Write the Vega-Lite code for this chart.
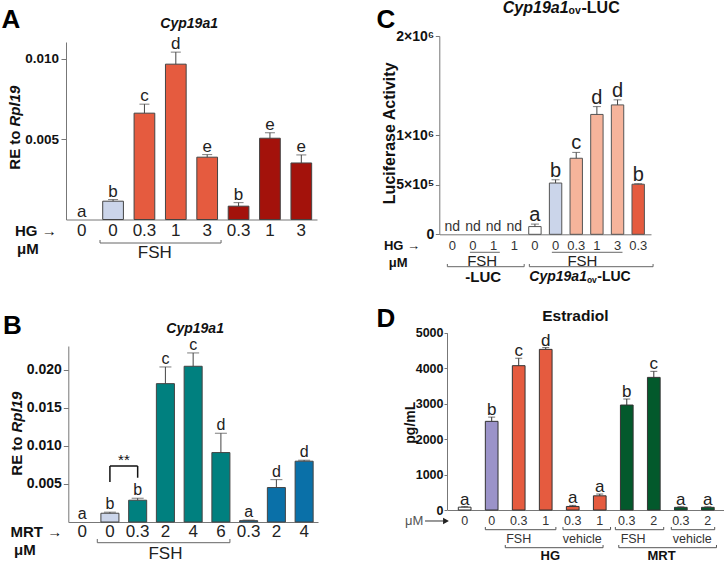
{
"$schema":"https://vega.github.io/schema/vega-lite/v6.json",
"width":724,"height":562,"autosize":"none","padding":0,"background":"white",
"config":{"font":"Liberation Sans","view":{"stroke":null},"axis":{"grid":false,"labelColor":"#111","labelFont":"Liberation Sans","labelOverlap":false,"domainColor":"#777","tickColor":"#777"}},
"datasets":{
"A":[
{"cat":"1","dose":"0","mean":0,"hi":0,"sig":"a","grp":"ctrl"},
{"cat":"2","dose":"0","mean":0.00114,"hi":0.00124,"sig":"b","grp":"FSH"},
{"cat":"3","dose":"0.3","mean":0.00662,"hi":0.00718,"sig":"c","grp":"FSH+HG"},
{"cat":"4","dose":"1","mean":0.00967,"hi":0.01042,"sig":"d","grp":"FSH+HG"},
{"cat":"5","dose":"3","mean":0.00388,"hi":0.00404,"sig":"e","grp":"FSH+HG"},
{"cat":"6","dose":"0.3","mean":0.00083,"hi":0.00105,"sig":"b","grp":"HG"},
{"cat":"7","dose":"1","mean":0.00506,"hi":0.0054,"sig":"e","grp":"HG"},
{"cat":"8","dose":"3","mean":0.00352,"hi":0.00402,"sig":"e","grp":"HG"}],
"B":[
{"cat":"1","dose":"0","mean":0,"hi":0,"sig":"a","grp":"ctrl"},
{"cat":"2","dose":"0","mean":0.00115,"hi":0.00129,"sig":"b","grp":"FSH"},
{"cat":"3","dose":"0.3","mean":0.00286,"hi":0.00312,"sig":"b","grp":"FSH+MRT"},
{"cat":"4","dose":"2","mean":0.01816,"hi":0.02035,"sig":"c","grp":"FSH+MRT"},
{"cat":"5","dose":"4","mean":0.02044,"hi":0.02219,"sig":"c","grp":"FSH+MRT"},
{"cat":"6","dose":"6","mean":0.00911,"hi":0.01165,"sig":"d","grp":"FSH+MRT"},
{"cat":"7","dose":"0.3","mean":0.00018,"hi":0.00025,"sig":"a","grp":"MRT"},
{"cat":"8","dose":"2","mean":0.00452,"hi":0.00556,"sig":"d","grp":"MRT"},
{"cat":"9","dose":"4","mean":0.00798,"hi":0.00811,"sig":"d","grp":"MRT"}],
"C":[
{"cat":"1","dose":"0","mean":0,"hi":0,"sig":"nd","grp":"ctrl"},
{"cat":"2","dose":"0","mean":0,"hi":0,"sig":"nd","grp":"ctrl"},
{"cat":"3","dose":"1","mean":0,"hi":0,"sig":"nd","grp":"ctrl"},
{"cat":"4","dose":"1","mean":0,"hi":0,"sig":"nd","grp":"ctrl"},
{"cat":"5","dose":"0","mean":78000,"hi":103000,"sig":"a","grp":"ctrl"},
{"cat":"6","dose":"0","mean":517000,"hi":550000,"sig":"b","grp":"FSH"},
{"cat":"7","dose":"0.3","mean":767000,"hi":826000,"sig":"c","grp":"FSH+HG (LUC)"},
{"cat":"8","dose":"1","mean":1209000,"hi":1288000,"sig":"d","grp":"FSH+HG (LUC)"},
{"cat":"9","dose":"3","mean":1305000,"hi":1356000,"sig":"d","grp":"FSH+HG (LUC)"},
{"cat":"10","dose":"0.3","mean":505000,"hi":510000,"sig":"b","grp":"HG (LUC)"}],
"D":[
{"cat":"1","dose":"0","mean":80,"hi":95,"sig":"a","grp":"ctrl"},
{"cat":"2","dose":"0","mean":2500,"hi":2620,"sig":"b","grp":"FSH (E2)"},
{"cat":"3","dose":"0.3","mean":4070,"hi":4280,"sig":"c","grp":"FSH+HG"},
{"cat":"4","dose":"1","mean":4530,"hi":4580,"sig":"d","grp":"FSH+HG"},
{"cat":"5","dose":"0.3","mean":100,"hi":130,"sig":"a","grp":"HG (E2)"},
{"cat":"6","dose":"1","mean":400,"hi":450,"sig":"a","grp":"HG (E2)"},
{"cat":"7","dose":"0.3","mean":2960,"hi":3130,"sig":"b","grp":"MRT (E2)"},
{"cat":"8","dose":"2","mean":3740,"hi":3910,"sig":"c","grp":"MRT (E2)"},
{"cat":"9","dose":"0.3","mean":75,"hi":90,"sig":"a","grp":"MRT (E2)"},
{"cat":"10","dose":"2","mean":75,"hi":90,"sig":"a","grp":"MRT (E2)"}]
},
"resolve":{"scale":{"x":"independent","y":"independent"}},
"layer":[
{"data":{"name":"A"},"layer":[
 {"transform":[{"filter":"datum.mean > 0"}],"mark":{"type":"bar","stroke":"#444","strokeWidth":1},
  "encoding":{
   "x":{"field":"cat","type":"nominal","scale":{"domain":["1","2","3","4","5","6","7","8"],"range":[66,317],"paddingInner":0.34,"paddingOuter":0.17},"axis":{"orient":"bottom","offset":-342.5,"labels":false,"ticks":false,"title":null}},
   "y":{"field":"mean","type":"quantitative","scale":{"domain":[0,0.01105],"range":[219.5,42],"nice":false},"axis":{"orient":"left","offset":-66,"values":[0.005,0.01],"format":".3f","title":null,"tickSize":5,"labelPadding":2.5,"labelFontSize":13.5,"labelFontWeight":"bold"}},
   "color":{"field":"grp","type":"nominal","scale":{"domain":["ctrl","FSH","FSH+HG","HG","FSH+MRT","MRT","FSH+HG (LUC)","HG (LUC)","FSH (E2)","HG (E2)","MRT (E2)"],"range":["#ffffff","#cbd5ea","#e55b3f","#a3120b","#00807f","#0a70a8","#f6b49b","#e55b3f","#9b93c9","#e55b3f","#03592c"]},"legend":null}}},
 {"transform":[{"filter":"datum.hi > datum.mean"}],"mark":{"type":"rule","color":"#444"},"encoding":{"x":{"field":"cat","type":"nominal"},"y":{"field":"mean","type":"quantitative"},"y2":{"field":"hi"}}},
 {"transform":[{"filter":"datum.hi > datum.mean"}],"mark":{"type":"tick","color":"#444","size":10,"thickness":1,"orient":"horizontal"},"encoding":{"x":{"field":"cat","type":"nominal"},"y":{"field":"hi","type":"quantitative"}}},
 {"mark":{"type":"text","fontSize":17,"baseline":"alphabetic","dy":-3,"color":"#222"},"encoding":{"x":{"field":"cat","type":"nominal"},"y":{"field":"hi","type":"quantitative"},"text":{"field":"sig"}}},
 {"mark":{"type":"text","fontSize":17,"baseline":"middle","color":"#222"},"encoding":{"x":{"field":"cat","type":"nominal"},"y":{"datum":-0.000747},"text":{"field":"dose"}}},
 {"data":{"values":[{}]},"layer":[
  {"mark":{"type":"text","text":"HG →","fontSize":15,"fontWeight":"bold","align":"right","baseline":"middle","dx":-25,"color":"#111"},"encoding":{"x":{"datum":"1","type":"nominal"},"y":{"datum":-0.000747}}},
  {"mark":{"type":"text","text":"μM","fontSize":15,"fontWeight":"bold","align":"left","baseline":"middle","dx":-64.7,"color":"#111"},"encoding":{"x":{"datum":"1","type":"nominal"},"y":{"datum":-0.001806}}},
  {"mark":{"type":"rule","color":"#666"},"encoding":{"x":{"datum":"2","type":"nominal","bandPosition":-0.13},"x2":{"datum":"5","bandPosition":1.17},"y":{"datum":-0.001463}}},
  {"mark":{"type":"rule","color":"#666"},"encoding":{"x":{"datum":"2","type":"nominal","bandPosition":-0.13},"y":{"datum":-0.001463},"y2":{"datum":-0.001276}}},
  {"mark":{"type":"rule","color":"#666"},"encoding":{"x":{"datum":"5","type":"nominal","bandPosition":1.17},"y":{"datum":-0.001463},"y2":{"datum":-0.001276}}},
  {"mark":{"type":"text","text":"FSH","fontSize":17,"baseline":"middle","color":"#222"},"encoding":{"x":{"datum":"3","type":"nominal","bandPosition":1},"y":{"datum":-0.002086}}},
  {"mark":{"type":"text","text":"Cyp19a1","fontSize":14,"fontWeight":"bold","fontStyle":"italic","baseline":"middle","dx":3,"color":"#111"},"encoding":{"x":{"datum":"4","type":"nominal","bandPosition":1},"y":{"datum":0.01217}}},
  {"mark":{"type":"text","text":"A","fontSize":26,"fontWeight":"bold","baseline":"middle","dx":-70.7,"color":"#000"},"encoding":{"x":{"datum":"1","type":"nominal"},"y":{"datum":0.01242}}},
  {"mark":{"type":"text","text":"RE to","fontSize":15,"fontWeight":"bold","angle":270,"align":"right","baseline":"middle","dx":-2,"dy":-66.7,"color":"#111"},"encoding":{"x":{"datum":"1","type":"nominal"},"y":{"datum":0.005666}}},
  {"mark":{"type":"text","text":"Rpl19","fontSize":15,"fontWeight":"bold","fontStyle":"italic","angle":270,"align":"left","baseline":"middle","dx":2,"dy":-66.7,"color":"#111"},"encoding":{"x":{"datum":"1","type":"nominal"},"y":{"datum":0.005666}}}
 ]}
]},
{"data":{"name":"B"},"layer":[
 {"transform":[{"filter":"datum.mean > 0"}],"mark":{"type":"bar","stroke":"#444","strokeWidth":1},
  "encoding":{
   "x":{"field":"cat","type":"nominal","scale":{"domain":["1","2","3","4","5","6","7","8","9"],"range":[68.3,318],"paddingInner":0.35,"paddingOuter":0.175},"axis":{"orient":"bottom","offset":-40,"labels":false,"ticks":false,"title":null}},
   "y":{"field":"mean","type":"quantitative","scale":{"domain":[0,0.0231],"range":[522,346],"nice":false},"axis":{"orient":"left","offset":-68.3,"values":[0.005,0.01,0.015,0.02],"format":".3f","title":null,"tickSize":5,"labelPadding":2,"labelFontSize":14,"labelFontWeight":"bold"}},
   "color":{"field":"grp","type":"nominal","scale":{"domain":["ctrl","FSH","FSH+HG","HG","FSH+MRT","MRT","FSH+HG (LUC)","HG (LUC)","FSH (E2)","HG (E2)","MRT (E2)"],"range":["#ffffff","#cbd5ea","#e55b3f","#a3120b","#00807f","#0a70a8","#f6b49b","#e55b3f","#9b93c9","#e55b3f","#03592c"]},"legend":null}}},
 {"transform":[{"filter":"datum.hi > datum.mean"}],"mark":{"type":"rule","color":"#444"},"encoding":{"x":{"field":"cat","type":"nominal"},"y":{"field":"mean","type":"quantitative"},"y2":{"field":"hi"}}},
 {"transform":[{"filter":"datum.hi > datum.mean"}],"mark":{"type":"tick","color":"#444","size":12,"thickness":1,"orient":"horizontal"},"encoding":{"x":{"field":"cat","type":"nominal"},"y":{"field":"hi","type":"quantitative"}}},
 {"mark":{"type":"text","fontSize":16,"baseline":"alphabetic","dy":-3,"color":"#222"},"encoding":{"x":{"field":"cat","type":"nominal"},"y":{"field":"hi","type":"quantitative"},"text":{"field":"sig"}}},
 {"mark":{"type":"text","fontSize":17,"baseline":"middle","color":"#222"},"encoding":{"x":{"field":"cat","type":"nominal"},"y":{"datum":-0.001273},"text":{"field":"dose"}}},
 {"data":{"values":[{}]},"layer":[
  {"mark":{"type":"text","text":"MRT →","fontSize":15,"fontWeight":"bold","align":"right","baseline":"middle","dx":-20,"color":"#111"},"encoding":{"x":{"datum":"1","type":"nominal"},"y":{"datum":-0.001273}}},
  {"mark":{"type":"text","text":"μM","fontSize":15,"fontWeight":"bold","align":"left","baseline":"middle","dx":-68.2,"color":"#111"},"encoding":{"x":{"datum":"1","type":"nominal"},"y":{"datum":-0.003675}}},
  {"mark":{"type":"rule","color":"#666"},"encoding":{"x":{"datum":"2","type":"nominal","bandPosition":-0.2},"x2":{"datum":"6","bandPosition":1},"y":{"datum":-0.002717}}},
  {"mark":{"type":"rule","color":"#666"},"encoding":{"x":{"datum":"2","type":"nominal","bandPosition":-0.2},"y":{"datum":-0.002717},"y2":{"datum":-0.002231}}},
  {"mark":{"type":"rule","color":"#666"},"encoding":{"x":{"datum":"6","type":"nominal","bandPosition":1},"y":{"datum":-0.002717},"y2":{"datum":-0.002231}}},
  {"mark":{"type":"text","text":"FSH","fontSize":17,"baseline":"middle","color":"#222"},"encoding":{"x":{"datum":"4","type":"nominal"},"y":{"datum":-0.0042}}},
  {"mark":{"type":"rule","color":"#111","strokeWidth":1.5},"encoding":{"x":{"datum":"2","type":"nominal"},"x2":{"datum":"3"},"y":{"datum":0.00735}}},
  {"mark":{"type":"rule","color":"#111","strokeWidth":1.5},"encoding":{"x":{"datum":"2","type":"nominal"},"y":{"datum":0.00525},"y2":{"datum":0.00735}}},
  {"mark":{"type":"rule","color":"#111","strokeWidth":1.5},"encoding":{"x":{"datum":"3","type":"nominal"},"y":{"datum":0.00581},"y2":{"datum":0.00735}}},
  {"mark":{"type":"text","text":"**","fontSize":15,"baseline":"alphabetic","dx":14,"dy":-1,"color":"#111"},"encoding":{"x":{"datum":"2","type":"nominal"},"y":{"datum":0.00735}}},
  {"mark":{"type":"text","text":"Cyp19a1","fontSize":14,"fontWeight":"bold","fontStyle":"italic","baseline":"middle","dx":2,"color":"#111"},"encoding":{"x":{"datum":"5","type":"nominal"},"y":{"datum":0.02533}}},
  {"mark":{"type":"text","text":"B","fontSize":26,"fontWeight":"bold","baseline":"middle","dx":-69.7,"color":"#000"},"encoding":{"x":{"datum":"1","type":"nominal"},"y":{"datum":0.02573}}},
  {"mark":{"type":"text","text":"RE to","fontSize":15,"fontWeight":"bold","angle":270,"align":"right","baseline":"middle","dx":-2,"dy":-65.5,"color":"#111"},"encoding":{"x":{"datum":"1","type":"nominal"},"y":{"datum":0.01148}}},
  {"mark":{"type":"text","text":"Rpl19","fontSize":15,"fontWeight":"bold","fontStyle":"italic","angle":270,"align":"left","baseline":"middle","dx":2,"dy":-65.5,"color":"#111"},"encoding":{"x":{"datum":"1","type":"nominal"},"y":{"datum":0.01148}}}
 ]}
]},
{"data":{"name":"C"},"layer":[
 {"transform":[{"filter":"datum.mean > 0"}],"mark":{"type":"bar","stroke":"#555","strokeWidth":1},
  "encoding":{
   "x":{"field":"cat","type":"nominal","scale":{"domain":["1","2","3","4","5","6","7","8","9","10"],"range":[439.5,651],"paddingInner":0.4,"paddingOuter":0.32},"axis":{"orient":"bottom","offset":-327.7,"labels":false,"ticks":false,"title":null}},
   "y":{"field":"mean","type":"quantitative","scale":{"domain":[0,2000000],"range":[234.3,36],"nice":false},"axis":{"orient":"left","offset":-439.3,"values":[0,500000,1000000,2000000],"labelExpr":"datum.value == 0 ? '0' : datum.value == 500000 ? '5×10⁵' : datum.value == 1000000 ? '1×10⁶' : '2×10⁶'","title":null,"tickSize":4,"labelPadding":1.5,"labelFontSize":14,"labelFontWeight":"bold"}},
   "color":{"field":"grp","type":"nominal","scale":{"domain":["ctrl","FSH","FSH+HG","HG","FSH+MRT","MRT","FSH+HG (LUC)","HG (LUC)","FSH (E2)","HG (E2)","MRT (E2)"],"range":["#ffffff","#cbd5ea","#e55b3f","#a3120b","#00807f","#0a70a8","#f6b49b","#e55b3f","#9b93c9","#e55b3f","#03592c"]},"legend":null}}},
 {"transform":[{"filter":"datum.hi > datum.mean"}],"mark":{"type":"rule","color":"#444"},"encoding":{"x":{"field":"cat","type":"nominal"},"y":{"field":"mean","type":"quantitative"},"y2":{"field":"hi"}}},
 {"transform":[{"filter":"datum.hi > datum.mean"}],"mark":{"type":"tick","color":"#444","size":8,"thickness":1,"orient":"horizontal"},"encoding":{"x":{"field":"cat","type":"nominal"},"y":{"field":"hi","type":"quantitative"}}},
 {"transform":[{"filter":"datum.sig != 'nd'"}],"mark":{"type":"text","fontSize":20,"baseline":"alphabetic","dy":-3,"color":"#222"},"encoding":{"x":{"field":"cat","type":"nominal"},"y":{"field":"hi","type":"quantitative"},"text":{"field":"sig"}}},
 {"transform":[{"filter":"datum.sig == 'nd'"}],"mark":{"type":"text","fontSize":14,"baseline":"alphabetic","dy":-3,"color":"#333"},"encoding":{"x":{"field":"cat","type":"nominal"},"y":{"field":"hi","type":"quantitative"},"text":{"field":"sig"}}},
 {"mark":{"type":"text","fontSize":13,"baseline":"middle","color":"#333"},"encoding":{"x":{"field":"cat","type":"nominal"},"y":{"datum":-118000},"text":{"field":"dose"}}},
 {"data":{"values":[{}]},"layer":[
  {"mark":{"type":"text","text":"HG →","fontSize":13,"fontWeight":"bold","align":"right","baseline":"middle","dx":-32.3,"color":"#111"},"encoding":{"x":{"datum":"1","type":"nominal"},"y":{"datum":-118000}}},
  {"mark":{"type":"text","text":"μM","fontSize":13,"fontWeight":"bold","align":"left","baseline":"middle","dx":-63.6,"color":"#111"},"encoding":{"x":{"datum":"1","type":"nominal"},"y":{"datum":-292500}}},
  {"mark":{"type":"rule","color":"#666"},"encoding":{"x":{"datum":"2","type":"nominal","bandPosition":0.25},"x2":{"datum":"3","bandPosition":1},"y":{"datum":-181500}}},
  {"mark":{"type":"rule","color":"#666"},"encoding":{"x":{"datum":"6","type":"nominal","bandPosition":0.2},"x2":{"datum":"9","bandPosition":0.9},"y":{"datum":-181500}}},
  {"mark":{"type":"text","text":"FSH","fontSize":15,"baseline":"middle","dx":3,"color":"#222"},"encoding":{"x":{"datum":"2","type":"nominal","bandPosition":1},"y":{"datum":-274300}}},
  {"mark":{"type":"text","text":"FSH","fontSize":15,"baseline":"middle","color":"#222"},"encoding":{"x":{"datum":"7","type":"nominal","bandPosition":1},"y":{"datum":-274300}}},
  {"mark":{"type":"rule","color":"#666"},"encoding":{"x":{"datum":"1","type":"nominal","bandPosition":0.1},"x2":{"datum":"4","bandPosition":1.3},"y":{"datum":-326800}}},
  {"mark":{"type":"rule","color":"#666"},"encoding":{"x":{"datum":"1","type":"nominal","bandPosition":0.1},"y":{"datum":-326800},"y2":{"datum":-299500}}},
  {"mark":{"type":"rule","color":"#666"},"encoding":{"x":{"datum":"4","type":"nominal","bandPosition":1.3},"y":{"datum":-326800},"y2":{"datum":-299500}}},
  {"mark":{"type":"rule","color":"#666"},"encoding":{"x":{"datum":"5","type":"nominal","bandPosition":0.05},"x2":{"datum":"10","bandPosition":1.7},"y":{"datum":-326800}}},
  {"mark":{"type":"rule","color":"#666"},"encoding":{"x":{"datum":"5","type":"nominal","bandPosition":0.05},"y":{"datum":-326800},"y2":{"datum":-299500}}},
  {"mark":{"type":"rule","color":"#666"},"encoding":{"x":{"datum":"10","type":"nominal","bandPosition":1.7},"y":{"datum":-326800},"y2":{"datum":-299500}}},
  {"mark":{"type":"text","text":"-LUC","fontSize":15,"fontWeight":"bold","baseline":"middle","dx":4,"color":"#111"},"encoding":{"x":{"datum":"2","type":"nominal","bandPosition":1},"y":{"datum":-433700}}},
  {"mark":{"type":"text","text":"Cyp19a1","fontSize":14,"fontWeight":"bold","fontStyle":"italic","align":"left","baseline":"middle","dx":0.6,"color":"#111"},"encoding":{"x":{"datum":"5","type":"nominal","bandPosition":0},"y":{"datum":-433700}}},
  {"mark":{"type":"text","text":"ov","fontSize":8.5,"fontWeight":"bold","align":"left","baseline":"middle","dx":58.2,"dy":3,"color":"#111"},"encoding":{"x":{"datum":"5","type":"nominal","bandPosition":0},"y":{"datum":-433700}}},
  {"mark":{"type":"text","text":"-LUC","fontSize":14,"fontWeight":"bold","align":"left","baseline":"middle","dx":68.5,"color":"#111"},"encoding":{"x":{"datum":"5","type":"nominal","bandPosition":0},"y":{"datum":-433700}}},
  {"mark":{"type":"text","text":"Cyp19a1","fontSize":16,"fontWeight":"bold","fontStyle":"italic","align":"left","baseline":"middle","dx":56.7,"color":"#111"},"encoding":{"x":{"datum":"1","type":"nominal","bandPosition":0},"y":{"datum":2282400}}},
  {"mark":{"type":"text","text":"ov","fontSize":10.5,"fontWeight":"bold","align":"left","baseline":"middle","dx":122.5,"dy":3,"color":"#111"},"encoding":{"x":{"datum":"1","type":"nominal","bandPosition":0},"y":{"datum":2282400}}},
  {"mark":{"type":"text","text":"-LUC","fontSize":16,"fontWeight":"bold","align":"left","baseline":"middle","dx":135.4,"color":"#111"},"encoding":{"x":{"datum":"1","type":"nominal","bandPosition":0},"y":{"datum":2282400}}},
  {"mark":{"type":"text","text":"C","fontSize":26,"fontWeight":"bold","baseline":"middle","dx":-66.3,"color":"#000"},"encoding":{"x":{"datum":"1","type":"nominal"},"y":{"datum":2161400}}},
  {"mark":{"type":"text","text":"Luciferase Activity","fontSize":16,"fontWeight":"bold","angle":270,"align":"center","baseline":"middle","dy":-62.3,"color":"#111"},"encoding":{"x":{"datum":"1","type":"nominal"},"y":{"datum":1018600}}}
 ]}
]},
{"data":{"name":"D"},"layer":[
 {"transform":[{"filter":"datum.mean > 0"}],"mark":{"type":"bar","stroke":"#333","strokeWidth":1},
  "encoding":{
   "x":{"field":"cat","type":"nominal","scale":{"domain":["1","2","3","4","5","6","7","8","9","10"],"range":[447.5,725],"paddingInner":0.53,"paddingOuter":0.4},"axis":{"orient":"bottom","offset":-52,"labels":false,"ticks":false,"title":null}},
   "y":{"field":"mean","type":"quantitative","scale":{"domain":[0,5000],"range":[510,332.7],"nice":false},"axis":{"orient":"left","offset":-447,"values":[0,1000,2000,3000,4000,5000],"format":"d","title":null,"tickSize":3,"labelPadding":1,"labelFontSize":12.5,"labelFontWeight":"bold"}},
   "color":{"field":"grp","type":"nominal","scale":{"domain":["ctrl","FSH","FSH+HG","HG","FSH+MRT","MRT","FSH+HG (LUC)","HG (LUC)","FSH (E2)","HG (E2)","MRT (E2)"],"range":["#ffffff","#cbd5ea","#e55b3f","#a3120b","#00807f","#0a70a8","#f6b49b","#e55b3f","#9b93c9","#e55b3f","#03592c"]},"legend":null}}},
 {"transform":[{"filter":"datum.hi > datum.mean"}],"mark":{"type":"rule","color":"#333"},"encoding":{"x":{"field":"cat","type":"nominal"},"y":{"field":"mean","type":"quantitative"},"y2":{"field":"hi"}}},
 {"transform":[{"filter":"datum.hi > datum.mean"}],"mark":{"type":"tick","color":"#333","size":7,"thickness":1,"orient":"horizontal"},"encoding":{"x":{"field":"cat","type":"nominal"},"y":{"field":"hi","type":"quantitative"}}},
 {"mark":{"type":"text","fontSize":17,"baseline":"alphabetic","dy":-2,"color":"#222"},"encoding":{"x":{"field":"cat","type":"nominal"},"y":{"field":"hi","type":"quantitative"},"text":{"field":"sig"}}},
 {"mark":{"type":"text","fontSize":12.5,"baseline":"middle","color":"#333"},"encoding":{"x":{"field":"cat","type":"nominal"},"y":{"datum":-310},"text":{"field":"dose"}}},
 {"data":{"values":[{}]},"layer":[
  {"mark":{"type":"text","text":"μM","fontSize":13,"align":"left","baseline":"middle","dx":-59.7,"color":"#555"},"encoding":{"x":{"datum":"1","type":"nominal"},"y":{"datum":-310}}},
  {"mark":{"type":"rule","color":"#333"},"encoding":{"x":{"datum":"1","type":"nominal","bandPosition":-2.62},"x2":{"datum":"1","bandPosition":-1.2},"y":{"datum":-310}}},
  {"mark":{"type":"point","shape":"triangle-right","filled":true,"size":45,"color":"#222","opacity":1},"encoding":{"x":{"datum":"1","type":"nominal","bandPosition":-0.97},"y":{"datum":-310}}},
  {"mark":{"type":"rule","color":"#555"},"encoding":{"x":{"datum":"2","type":"nominal","bandPosition":0},"x2":{"datum":"4","bandPosition":1.3},"y":{"datum":-555.5}}},
  {"mark":{"type":"rule","color":"#555"},"encoding":{"x":{"datum":"2","type":"nominal","bandPosition":0},"y":{"datum":-555.5},"y2":{"datum":-479}}},
  {"mark":{"type":"rule","color":"#555"},"encoding":{"x":{"datum":"4","type":"nominal","bandPosition":1.3},"y":{"datum":-555.5},"y2":{"datum":-479}}},
  {"mark":{"type":"rule","color":"#555"},"encoding":{"x":{"datum":"5","type":"nominal","bandPosition":-0.27},"x2":{"datum":"6","bandPosition":1.35},"y":{"datum":-555.5}}},
  {"mark":{"type":"rule","color":"#555"},"encoding":{"x":{"datum":"5","type":"nominal","bandPosition":-0.27},"y":{"datum":-555.5},"y2":{"datum":-479}}},
  {"mark":{"type":"rule","color":"#555"},"encoding":{"x":{"datum":"6","type":"nominal","bandPosition":1.35},"y":{"datum":-555.5},"y2":{"datum":-479}}},
  {"mark":{"type":"rule","color":"#555"},"encoding":{"x":{"datum":"7","type":"nominal","bandPosition":-0.4},"x2":{"datum":"8","bandPosition":1.28},"y":{"datum":-555.5}}},
  {"mark":{"type":"rule","color":"#555"},"encoding":{"x":{"datum":"7","type":"nominal","bandPosition":-0.4},"y":{"datum":-555.5},"y2":{"datum":-479}}},
  {"mark":{"type":"rule","color":"#555"},"encoding":{"x":{"datum":"8","type":"nominal","bandPosition":1.28},"y":{"datum":-555.5},"y2":{"datum":-479}}},
  {"mark":{"type":"rule","color":"#555"},"encoding":{"x":{"datum":"9","type":"nominal","bandPosition":-0.25},"x2":{"datum":"10","bandPosition":1.04},"y":{"datum":-555.5}}},
  {"mark":{"type":"rule","color":"#555"},"encoding":{"x":{"datum":"9","type":"nominal","bandPosition":-0.25},"y":{"datum":-555.5},"y2":{"datum":-479}}},
  {"mark":{"type":"rule","color":"#555"},"encoding":{"x":{"datum":"10","type":"nominal","bandPosition":1.04},"y":{"datum":-555.5},"y2":{"datum":-479}}},
  {"mark":{"type":"rule","color":"#555"},"encoding":{"x":{"datum":"2","type":"nominal","bandPosition":1.57},"x2":{"datum":"6","bandPosition":0.76},"y":{"datum":-1063}}},
  {"mark":{"type":"rule","color":"#555"},"encoding":{"x":{"datum":"2","type":"nominal","bandPosition":1.57},"y":{"datum":-1063},"y2":{"datum":-987}}},
  {"mark":{"type":"rule","color":"#555"},"encoding":{"x":{"datum":"6","type":"nominal","bandPosition":0.76},"y":{"datum":-1063},"y2":{"datum":-987}}},
  {"mark":{"type":"rule","color":"#555"},"encoding":{"x":{"datum":"7","type":"nominal","bandPosition":-0.13},"x2":{"datum":"10","bandPosition":1.18},"y":{"datum":-1063}}},
  {"mark":{"type":"rule","color":"#555"},"encoding":{"x":{"datum":"7","type":"nominal","bandPosition":-0.13},"y":{"datum":-1063},"y2":{"datum":-987}}},
  {"mark":{"type":"rule","color":"#555"},"encoding":{"x":{"datum":"10","type":"nominal","bandPosition":1.18},"y":{"datum":-1063},"y2":{"datum":-987}}},
  {"mark":{"type":"text","text":"FSH","fontSize":12.5,"baseline":"middle","color":"#333"},"encoding":{"x":{"datum":"3","type":"nominal"},"y":{"datum":-809}}},
  {"mark":{"type":"text","text":"vehicle","fontSize":12.5,"baseline":"middle","color":"#333"},"encoding":{"x":{"datum":"5","type":"nominal","bandPosition":1.25},"y":{"datum":-809}}},
  {"mark":{"type":"text","text":"FSH","fontSize":12.5,"baseline":"middle","color":"#333"},"encoding":{"x":{"datum":"7","type":"nominal","bandPosition":1},"y":{"datum":-809}}},
  {"mark":{"type":"text","text":"vehicle","fontSize":12.5,"baseline":"middle","color":"#333"},"encoding":{"x":{"datum":"9","type":"nominal","bandPosition":1.4},"y":{"datum":-809}}},
  {"mark":{"type":"text","text":"HG","fontSize":13,"fontWeight":"bold","baseline":"middle","dx":4.6,"color":"#111"},"encoding":{"x":{"datum":"4","type":"nominal"},"y":{"datum":-1297}}},
  {"mark":{"type":"text","text":"MRT","fontSize":13,"fontWeight":"bold","baseline":"middle","dx":1.4,"color":"#111"},"encoding":{"x":{"datum":"8","type":"nominal","bandPosition":1},"y":{"datum":-1297}}},
  {"mark":{"type":"text","text":"Estradiol","fontSize":15.5,"fontWeight":"bold","baseline":"middle","dx":2.6,"color":"#111"},"encoding":{"x":{"datum":"5","type":"nominal"},"y":{"datum":5471}}},
  {"mark":{"type":"text","text":"D","fontSize":26,"fontWeight":"bold","baseline":"middle","dx":-78.7,"color":"#000"},"encoding":{"x":{"datum":"1","type":"nominal"},"y":{"datum":5378}}},
  {"mark":{"type":"text","text":"pg/mL","fontSize":14,"fontWeight":"bold","angle":270,"align":"center","baseline":"middle","dy":-53.4,"color":"#111"},"encoding":{"x":{"datum":"1","type":"nominal"},"y":{"datum":2462}}}
 ]}
]}
]
}
